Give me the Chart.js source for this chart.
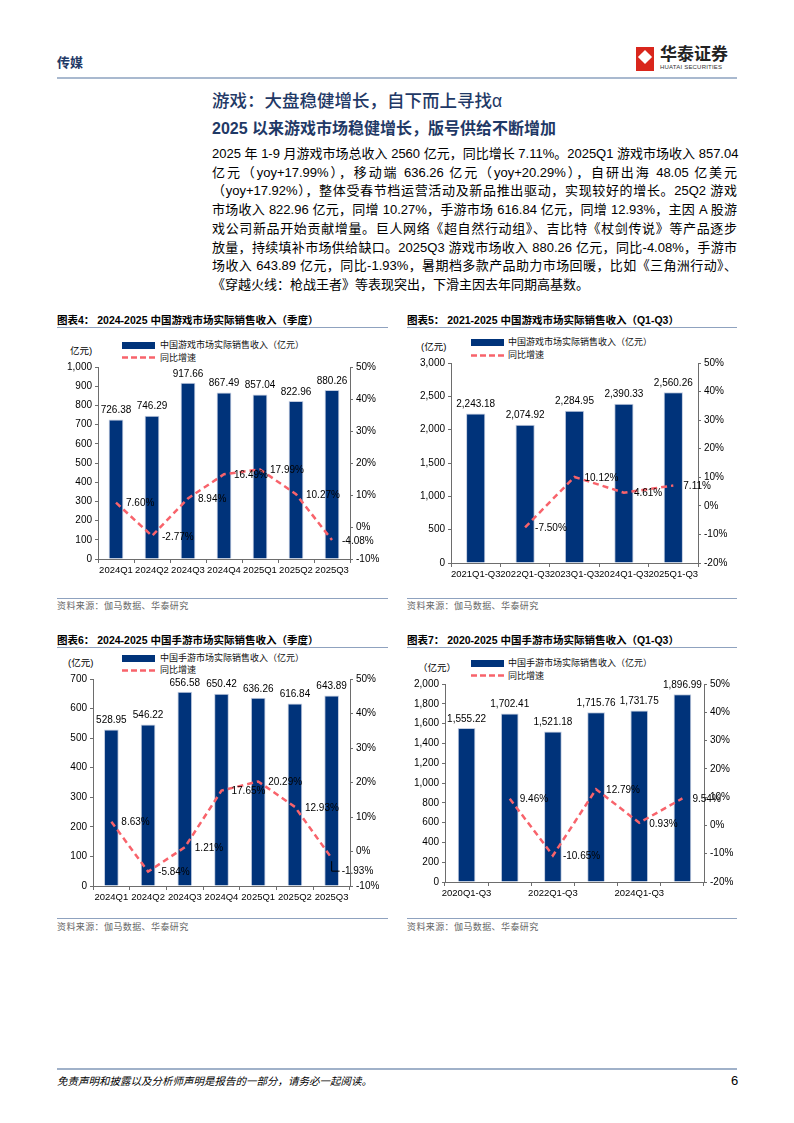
<!DOCTYPE html>
<html>
<head>
<meta charset="utf-8">
<script src="https://cdn.jsdelivr.net/npm/chart.js@4.4.1/dist/chart.umd.min.js"></script>
<style>
  body { margin: 0; background: #fff; }
  #page { position: relative; width: 794px; height: 1123px; overflow: hidden;
          font-family: "Liberation Sans", "Noto Sans CJK SC", sans-serif; color: #000; }
  .abs { position: absolute; white-space: nowrap; }
  .navy { color: #1f3966; }
  .ctitle { font-size: 10.5px; font-weight: bold; line-height: 14px; }
  .cline { height: 1px; background: #8fa2bf; }
  .src { font-size: 9px; color: #666; line-height: 12px; letter-spacing: 0.4px; }
  .leg { font-size: 9px; line-height: 12px; color: #111; }
  .unit { font-size: 9.5px; line-height: 12px; }
  .sw { height: 7px; background: #00337a; }
  .body { left: 212px; width: 525px; font-size: 13px; line-height: 18px;
          text-align: justify; text-align-last: justify; }
  .box { position: absolute; }
</style>
</head>
<body>
<div id="page">
  <!-- header -->
  <div class="abs navy" style="left:57px;top:55px;font-size:13px;font-weight:bold;line-height:16px;">传媒</div>
  <div class="abs" style="left:57px;top:77px;width:680px;height:2px;background:#a9b9cf;"></div>
  <div class="abs" style="left:636px;top:47px;width:18px;height:24px;background:#d9261c;"></div>
  <div class="abs" style="left:640px;top:52px;width:10px;height:10px;background:#fff;transform:rotate(45deg);"></div>
  <div class="abs" style="left:660px;top:45px;font-size:17px;font-weight:bold;line-height:20px;color:#222;">华泰证券</div>
  <div class="abs" style="left:660px;top:64px;font-size:6px;line-height:7px;color:#333;letter-spacing:0.2px;">HUATAI SECURITIES</div>

  <!-- headings and text -->
  <div class="abs navy" style="left:212px;top:90px;font-size:17.5px;font-weight:500;line-height:22px;">游戏：大盘稳健增长，自下而上寻找α</div>
  <div class="abs navy" style="left:212px;top:119px;font-size:16px;font-weight:bold;line-height:20px;">2025 以来游戏市场稳健增长，版号供给不断增加</div>
  <div class="abs body" style="top:145px;">2025 年 1-9 月游戏市场总收入 2560 亿元，同比增长 7.11%。2025Q1 游戏市场收入 857.04</div>
  <div class="abs body" style="top:164px;">亿元（yoy+17.99%），移动端 636.26 亿元（yoy+20.29%），自研出海 48.05 亿美元</div>
  <div class="abs body" style="top:182px;">（yoy+17.92%），整体受春节档运营活动及新品推出驱动，实现较好的增长。25Q2 游戏</div>
  <div class="abs body" style="top:201px;">市场收入 822.96 亿元，同增 10.27%，手游市场 616.84 亿元，同增 12.93%，主因 A 股游</div>
  <div class="abs body" style="top:220px;">戏公司新品开始贡献增量。巨人网络《超自然行动组》、吉比特《杖剑传说》等产品逐步</div>
  <div class="abs body" style="top:239px;">放量，持续填补市场供给缺口。2025Q3 游戏市场收入 880.26 亿元，同比-4.08%，手游市</div>
  <div class="abs body" style="top:257px;">场收入 643.89 亿元，同比-1.93%，暑期档多款产品助力市场回暖，比如《三角洲行动》、</div>
  <div class="abs body" style="top:276px;text-align-last:left;">《穿越火线：枪战王者》等表现突出，下滑主因去年同期高基数。</div>

  <!-- chart 4 -->
  <div class="abs ctitle" style="left:57px;top:313px;">图表4：&nbsp;2024-2025 中国游戏市场实际销售收入（季度）</div>
  <div class="abs cline" style="left:57px;top:327px;width:331px;"></div>
  <div class="abs unit" style="left:70px;top:345px;">亿元)</div>
  <div class="abs sw" style="left:122px;top:342px;width:33px;"></div>
  <div class="abs leg" style="left:160px;top:339px;">中国游戏市场实际销售收入（亿元）</div>
  <svg class="abs" style="left:122px;top:355px;" width="34" height="5"><line x1="0" y1="2.5" x2="34" y2="2.5" stroke="#f8636b" stroke-width="2.5" stroke-dasharray="6,3"/></svg>
  <div class="abs leg" style="left:160px;top:352px;">同比增速</div>
  <div class="box" style="left:57px;top:330px;width:335px;height:255px;"><canvas id="c4"></canvas></div>
  <div class="abs cline" style="left:57px;top:598px;width:331px;"></div>
  <div class="abs src" style="left:57px;top:600px;">资料来源：伽马数据、华泰研究</div>

  <!-- chart 5 -->
  <div class="abs ctitle" style="left:407px;top:313px;">图表5：&nbsp;2021-2025 中国游戏市场实际销售收入（Q1-Q3）</div>
  <div class="abs cline" style="left:407px;top:327px;width:330px;"></div>
  <div class="abs unit" style="left:421px;top:341px;">(亿元)</div>
  <div class="abs sw" style="left:471px;top:339px;width:33px;"></div>
  <div class="abs leg" style="left:508px;top:336px;">中国游戏市场实际销售收入（亿元）</div>
  <svg class="abs" style="left:471px;top:353px;" width="34" height="5"><line x1="0" y1="2.5" x2="34" y2="2.5" stroke="#f8636b" stroke-width="2.5" stroke-dasharray="6,3"/></svg>
  <div class="abs leg" style="left:508px;top:349px;">同比增速</div>
  <div class="box" style="left:407px;top:330px;width:335px;height:259px;"><canvas id="c5"></canvas></div>
  <div class="abs cline" style="left:407px;top:598px;width:330px;"></div>
  <div class="abs src" style="left:407px;top:600px;">资料来源：伽马数据、华泰研究</div>

  <!-- chart 6 -->
  <div class="abs ctitle" style="left:57px;top:633px;">图表6：&nbsp;2024-2025 中国手游市场实际销售收入（季度）</div>
  <div class="abs cline" style="left:57px;top:647px;width:331px;"></div>
  <div class="abs unit" style="left:68px;top:657px;">(亿元)</div>
  <div class="abs sw" style="left:122px;top:655px;width:33px;"></div>
  <div class="abs leg" style="left:160px;top:652px;">中国手游市场实际销售收入（亿元）</div>
  <svg class="abs" style="left:122px;top:668px;" width="34" height="5"><line x1="0" y1="2.5" x2="34" y2="2.5" stroke="#f8636b" stroke-width="2.5" stroke-dasharray="6,3"/></svg>
  <div class="abs leg" style="left:160px;top:664px;">同比增速</div>
  <div class="box" style="left:57px;top:650px;width:335px;height:262px;"><canvas id="c6"></canvas></div>
  <div class="abs cline" style="left:57px;top:918px;width:331px;"></div>
  <div class="abs src" style="left:57px;top:921px;">资料来源：伽马数据、华泰研究</div>

  <!-- chart 7 -->
  <div class="abs ctitle" style="left:407px;top:633px;">图表7：&nbsp;2020-2025 中国手游市场实际销售收入（Q1-Q3）</div>
  <div class="abs cline" style="left:407px;top:647px;width:330px;"></div>
  <div class="abs unit" style="left:418px;top:662px;">（亿元）</div>
  <div class="abs sw" style="left:471px;top:660px;width:33px;"></div>
  <div class="abs leg" style="left:508px;top:657px;">中国手游市场实际销售收入（亿元）</div>
  <svg class="abs" style="left:471px;top:673px;" width="34" height="5"><line x1="0" y1="2.5" x2="34" y2="2.5" stroke="#f8636b" stroke-width="2.5" stroke-dasharray="6,3"/></svg>
  <div class="abs leg" style="left:508px;top:670px;">同比增速</div>
  <div class="box" style="left:407px;top:650px;width:335px;height:258px;"><canvas id="c7"></canvas></div>
  <div class="abs cline" style="left:407px;top:918px;width:330px;"></div>
  <div class="abs src" style="left:407px;top:921px;">资料来源：伽马数据、华泰研究</div>

  <!-- footer -->
  <div class="abs" style="left:57px;top:1068px;width:680px;height:2px;background:#a0b1c9;"></div>
  <div class="abs" style="left:57px;top:1074px;font-size:10.5px;font-style:italic;line-height:14px;">免责声明和披露以及分析师声明是报告的一部分，请务必一起阅读。</div>
  <div class="abs" style="left:731px;top:1073px;font-size:13px;line-height:16px;">6</div>
</div>

<script>
// chart 4: game market, quarterly
const quarters = ['2024Q1', '2024Q2', '2024Q3', '2024Q4', '2025Q1', '2025Q2', '2025Q3'];
const gameRevenueQ = [726.38, 746.29, 917.66, 867.49, 857.04, 822.96, 880.26];
const gameGrowthQ = [7.60, -2.77, 8.94, 16.49, 17.99, 10.27, -4.08];

// chart 5: game market, Q1-Q3
const ytdYears5 = ['2021Q1-Q3', '2022Q1-Q3', '2023Q1-Q3', '2024Q1-Q3', '2025Q1-Q3'];
const gameRevenueYtd = [2243.18, 2074.92, 2284.95, 2390.33, 2560.26];
const gameGrowthYtd = [null, -7.50, 10.12, 4.61, 7.11];

// chart 6: mobile game market, quarterly
const mobileRevenueQ = [528.95, 546.22, 656.58, 650.42, 636.26, 616.84, 643.89];
const mobileGrowthQ = [8.63, -5.84, 1.21, 17.65, 20.29, 12.93, -1.93];

// chart 7: mobile game market, Q1-Q3
const ytdYears7 = ['2020Q1-Q3', '2021Q1-Q3', '2022Q1-Q3', '2023Q1-Q3', '2024Q1-Q3', '2025Q1-Q3'];
const mobileRevenueYtd = [1555.22, 1702.41, 1521.18, 1715.76, 1731.75, 1896.99];
const mobileGrowthYtd = [null, 9.46, -10.65, 12.79, 0.93, 9.54];

const BAR = '#00337a';
const LINE = '#f8636b';
const AXIS = '#6d6d6d';
const FONT = { family: '"Liberation Sans", Arial, sans-serif', size: 10 };
const XFONT = { family: '"Liberation Sans", Arial, sans-serif', size: 9.5 };

const valueLabels = {
    id: 'valueLabels',
    afterDatasetsDraw(chart, args, opts) {
        const c = chart.ctx;
        c.save();
        c.font = '10px "Liberation Sans", Arial, sans-serif';
        c.fillStyle = '#000';
        chart.data.datasets.forEach((ds, di) => {
            const meta = chart.getDatasetMeta(di);
            meta.data.forEach((el, i) => {
                const v = ds.data[i];
                if (v == null) return;
                if (ds.type === 'bar') {
                    c.textAlign = 'center';
                    c.textBaseline = 'bottom';
                    c.fillText(v.toLocaleString('en-US', { minimumFractionDigits: 2 }), el.x, el.y - 4);
                } else {
                    c.textAlign = 'left';
                    c.textBaseline = 'middle';
                    let dy = 1;
                    if (i === opts.callout) {
                        // small leader line, label pushed down
                        dy = 13;
                        c.strokeStyle = '#000';
                        c.lineWidth = 1;
                        c.beginPath();
                        c.moveTo(el.x, el.y + 3);
                        c.lineTo(el.x, el.y + dy);
                        c.lineTo(el.x + 8, el.y + dy);
                        c.stroke();
                    }
                    c.fillText(v.toFixed(2) + '%', el.x + 10, el.y + dy);
                }
            });
        });
        c.restore();
    }
};

function buildChart(id, o) {
    return new Chart(document.getElementById(id), {
        data: {
            labels: o.labels,
            datasets: [{
                type: 'line',
                data: o.growth,
                yAxisID: 'y1',
                borderColor: LINE,
                borderWidth: 2.5,
                borderDash: [6, 4],
                pointRadius: 0,
                tension: 0,
                order: 0
            }, {
                type: 'bar',
                data: o.revenue,
                yAxisID: 'y',
                backgroundColor: BAR,
                borderColor: '#c3cde0',
                borderWidth: 1,
                barPercentage: o.barPct,
                categoryPercentage: 1,
                order: 1
            }]
        },
        options: {
            responsive: true,
            maintainAspectRatio: false,
            animation: false,
            layout: { padding: { top: o.top, left: 0, right: 0, bottom: 0 } },
            plugins: {
                legend: { display: false },
                tooltip: { enabled: false },
                valueLabels: { callout: o.callout }
            },
            scales: {
                x: {
                    offset: true,
                    grid: { offset: true, drawOnChartArea: false, tickLength: 4, color: AXIS },
                    border: { color: AXIS },
                    ticks: {
                        font: XFONT, color: '#000', autoSkip: false, maxRotation: 0, padding: 2,
                        callback: (v, i) => (o.every && i % o.every !== 0) ? '' : o.labels[i]
                    },
                    afterFit: s => { s.height = 26; }
                },
                y: {
                    position: 'left',
                    min: 0, max: o.yMax,
                    grid: { drawOnChartArea: false, tickLength: 3, color: AXIS },
                    border: { color: AXIS },
                    ticks: { stepSize: o.yStep, font: FONT, color: '#000', padding: 3,
                             callback: v => v.toLocaleString('en-US') },
                    afterFit: s => { s.width = o.left; }
                },
                y1: {
                    position: 'right',
                    min: o.pMin, max: o.pMax,
                    grid: { drawOnChartArea: false, tickLength: 3, color: AXIS },
                    border: { color: AXIS },
                    ticks: { stepSize: 10, font: FONT, color: '#000', padding: 3,
                             callback: v => v + '%' },
                    afterFit: s => { s.width = o.right; }
                }
            }
        },
        plugins: [valueLabels]
    });
}

buildChart('c4', { labels: quarters, revenue: gameRevenueQ, growth: gameGrowthQ,
    yMax: 1000, yStep: 100, pMin: -10, pMax: 50, top: 37, left: 41, right: 42, barPct: 0.41 });
buildChart('c5', { labels: ytdYears5, revenue: gameRevenueYtd, growth: gameGrowthYtd,
    yMax: 3000, yStep: 500, pMin: -20, pMax: 50, top: 33, left: 44, right: 44, barPct: 0.39 });
buildChart('c6', { labels: quarters, revenue: mobileRevenueQ, growth: mobileGrowthQ,
    yMax: 700, yStep: 100, pMin: -10, pMax: 50, top: 29, left: 36, right: 42, barPct: 0.4, callout: 6 });
buildChart('c7', { labels: ytdYears7, revenue: mobileRevenueYtd, growth: mobileGrowthYtd,
    yMax: 2000, yStep: 200, pMin: -20, pMax: 50, top: 34, left: 38, right: 38, barPct: 0.41, every: 2 });
</script>
</body>
</html>
